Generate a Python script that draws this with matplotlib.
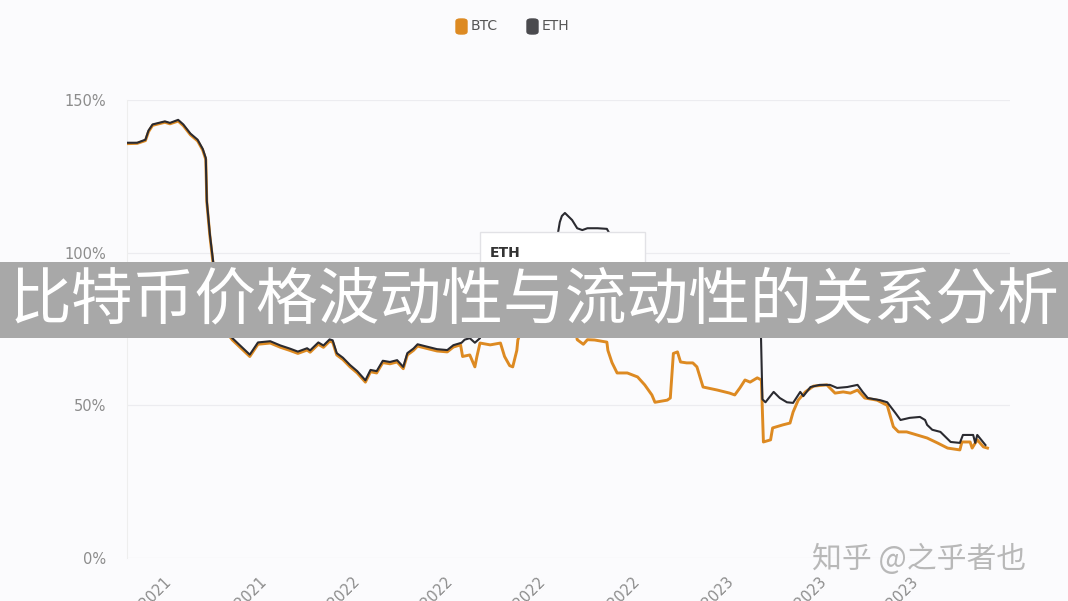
import pandas as pd
import matplotlib
matplotlib.use("Agg")
from matplotlib import pyplot as plt
from matplotlib.patches import Rectangle, FancyBboxPatch

plt.rcParams["font.family"] = ["DejaVu Sans", "Noto Sans CJK SC"]

start = pd.Timestamp("2021-05-25")

# days since start / volatility in %
btc_days = [0, 10, 18, 21, 25, 37, 42, 50, 55, 62, 69, 74, 77, 78, 81, 84, 89, 96,
            103, 120, 128, 140, 150, 159, 167, 176, 179, 187, 192, 198, 201, 205, 211,
            218, 225, 233, 238, 244, 250, 257, 264, 270, 274, 280, 284, 291, 303, 313,
            319, 326, 328, 335, 340, 342, 345, 355, 365, 369, 374, 377, 381, 382, 389,
            404, 423, 438, 440, 446, 450, 457, 469, 470, 474, 479, 489, 499, 506, 513,
            516, 528, 531, 534, 538, 541, 547, 553, 557, 563, 577, 589, 594, 599, 604,
            609, 616, 620, 622, 629, 631, 641, 648, 651, 656, 663, 671, 684, 692, 700,
            707, 714, 721, 733, 743, 749, 754, 762, 772, 782, 792, 802, 814, 816, 824,
            826, 831, 837, 841]
btc_vals = [135.7, 135.8, 136.7, 139.6, 141.7, 142.7, 142.2, 143.1, 141.6, 138.6, 136.6, 133.6,
            130.5, 116.5, 105.5, 96.8, 84.5, 74.5,
            71.4, 66, 70, 70.4, 69, 68, 67, 68.1, 67.4, 70, 69, 71, 70.7, 66.5, 65,
            62.6, 60.6, 57.6, 61, 60.6, 64, 63.6, 64.2, 62, 66.5, 68, 69.4, 68.8, 67.8, 67.5,
            69.1, 69.8, 66, 66.5, 62.6, 66, 70.4, 69.8, 70.4, 66, 63, 62.6, 68, 71.4, 78,
            82, 80, 76, 71.5, 70.0, 71.5, 71.4, 70.7, 68, 64, 60.6, 60.6, 59.3, 56.7, 53.4,
            51, 51.7, 52.4, 67, 67.5, 64.2, 63.9, 63.9, 62.6, 56, 55, 54, 53.4, 55.7, 58.3,
            57.6, 59, 58.3, 38, 38.7, 42.6, 43.6, 44.2, 47.8, 51.7, 54.4, 56.3, 56.7, 54, 54.4,
            54, 55, 52.4, 51.7, 50, 43, 41.3, 41.3, 40.3, 39.3, 37.7, 36, 35.4, 38, 38,
            36, 38.7, 36.4, 36]

eth_days = [0, 10, 18, 21, 25, 37, 42, 50, 55, 62, 69, 74, 77, 78, 81, 84, 89, 96,
            103, 120, 128, 140, 150, 159, 167, 176, 179, 187, 192, 198, 201, 205, 211,
            218, 225, 233, 238, 244, 250, 257, 264, 270, 274, 280, 284, 291, 303, 313,
            319, 326, 327, 330, 335, 340, 345, 350, 365, 384, 404, 418, 423, 425, 428,
            435, 440, 445, 450, 456, 460, 469, 477, 491, 511, 541, 570, 599, 619, 621,
            624, 632, 638, 645, 651, 658, 661, 668, 677, 687, 694, 704, 714, 719, 724,
            736, 743, 751, 756, 765, 775, 780, 782, 787, 795, 805, 814, 817, 827, 829,
            831, 839]
eth_vals = [136, 136, 137, 140, 142, 143, 142.5, 143.5, 142, 139, 137, 134, 131, 117, 106,
            97.6, 85, 75,
            72.0, 66.6, 70.6, 71.0, 69.6, 68.6, 67.6, 68.7, 68.0, 70.6, 69.6, 71.6, 71.3, 67.1,
            65.6, 63.2, 61.2, 58.2, 61.6, 61.2, 64.6, 64.2, 64.8, 62.6, 67.1, 68.6, 70.0, 69.4,
            68.4, 68.1, 69.7, 70.4, 70.5, 71.5, 72, 70.5, 72, 78, 88, 92, 95, 100, 110, 112,
            113, 110.7, 108, 107.4, 108, 108, 108, 107.8, 103, 95, 88, 85, 82, 84, 82, 52,
            51, 54.4, 52.4, 51, 50.8, 54.4, 53, 56, 56.7, 56.7, 55.7, 56, 56.7, 54.4, 52.4,
            51.7, 51, 47.5, 45.2, 45.9, 46.2, 45.2, 43.6, 42, 41.3, 38, 37.7, 40.3, 40.3, 37.7,
            40.3, 37]

tick_dates = pd.date_range("2021-07-01", "2023-07-01", freq="QS")
y_ticks = [0, 50, 100, 150]

title = "比特币价格波动性与流动性的关系分析"
watermark = "知乎 @之乎者也"

BTC_COLOR = "#dd8a22"
ETH_COLOR = "#2a2a30"
W, H = 1068, 601

fig = plt.figure(figsize=(W / 100, H / 100), dpi=100, facecolor="#fbfbfd")
ax = fig.add_axes([127 / W, 1 - 558 / H, 883 / W, 458 / H])
ax.set_facecolor("#fbfbfd")

btc_x = [start + pd.Timedelta(days=d) for d in btc_days]
eth_x = [start + pd.Timedelta(days=d) for d in eth_days]
ax.plot(btc_x, btc_vals, color=BTC_COLOR, lw=2.1, zorder=3, solid_joinstyle="round")
ax.plot(eth_x, eth_vals, color=ETH_COLOR, lw=1.5, zorder=4, solid_joinstyle="round")

ax.set_xlim(start, start + pd.Timedelta(days=863))
ax.set_ylim(0, 150)
ax.set_yticks(y_ticks)
ax.set_yticklabels([f"{v}%" for v in y_ticks])
ax.set_xticks(tick_dates)
ax.set_xticklabels([d.strftime("%b %Y") for d in tick_dates], rotation=45,
                   ha="right", va="top", rotation_mode="anchor")
ax.tick_params(axis="both", length=0, labelcolor="#8c8c8c", labelsize=10.5)
ax.tick_params(axis="y", pad=15)
ax.tick_params(axis="x", pad=12)
ax.yaxis.grid(True, color="#ececf0", lw=0.9)
ax.set_axisbelow(True)
for side in ["top", "right", "bottom"]:
    ax.spines[side].set_visible(False)
ax.spines["left"].set_color("#eeeeee")

# legend
for x0, col, lab in [(456, BTC_COLOR, "BTC"), (527, "#4a4a4e", "ETH")]:
    fig.patches.append(FancyBboxPatch(((x0) / W, 1 - 34 / H), 11 / W, 15 / H,
                                      boxstyle="round,pad=0,rounding_size=0.004",
                                      transform=fig.transFigure, color=col))
    fig.text((x0 + 15) / W, 1 - 26 / H, lab, fontsize=10, color="#555555",
             va="center", ha="left")

# tooltip box
fig.patches.append(Rectangle((480 / W, 1 - 300 / H), 165 / W, 68 / H,
                             transform=fig.transFigure, facecolor="white",
                             edgecolor="#e2e2e6", lw=1, zorder=5))
fig.text(490 / W, 1 - 253 / H, "ETH", fontsize=10, fontweight="bold",
         color="#333333", va="center", zorder=6)

# banner
fig.patches.append(Rectangle((0, 1 - 338 / H), 1, 76 / H, transform=fig.transFigure,
                             facecolor="#a8a8a8", edgecolor="none", zorder=10))
fig.text(0.5, 1 - 300 / H, title, fontsize=44.5, color="white", ha="center",
         va="center", family=["Noto Sans CJK SC", "DejaVu Sans"], zorder=11)

fig.text(919 / W, 1 - 559 / H, watermark, fontsize=21.5, color="#b8b8b8",
         ha="center", va="center", family=["Noto Sans CJK SC", "DejaVu Sans"], zorder=7)

fig.savefig("out.png", dpi=100, facecolor=fig.get_facecolor())
